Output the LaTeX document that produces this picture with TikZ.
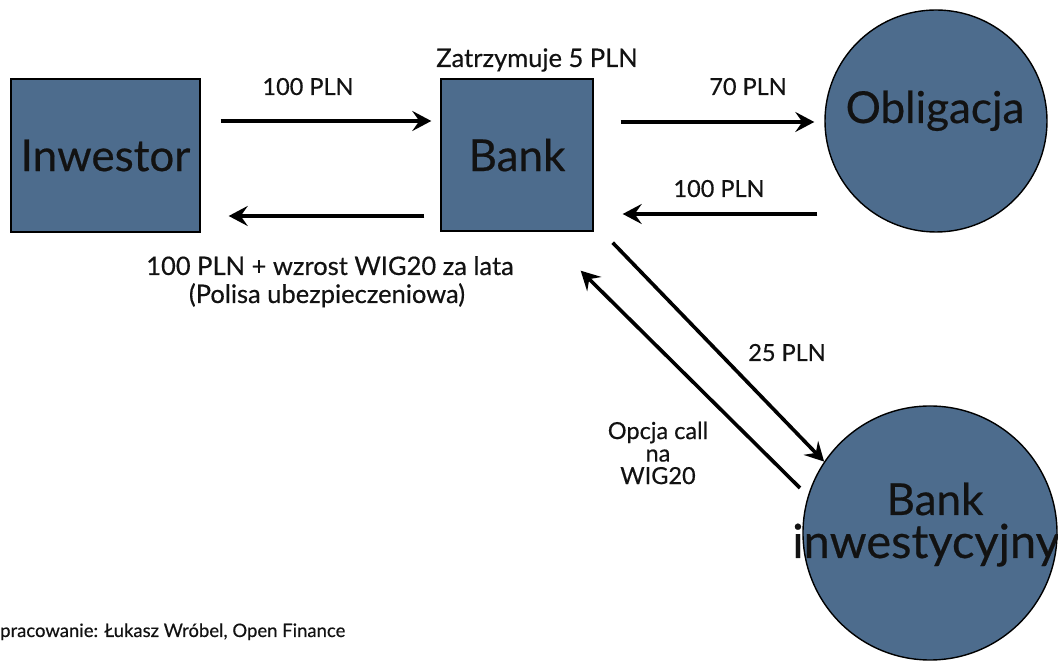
\documentclass[tikz,border=0pt]{standalone}
\usepackage{fontspec}
\setmainfont{Lato}[FakeBold=0.45]
\usetikzlibrary{arrows.meta,calc}
\definecolor{steel}{RGB}{77,108,141}
\definecolor{ink}{RGB}{18,18,18}
\begin{document}
\begin{tikzpicture}[x=1pt,y=1pt,
  party/.style={draw=black, line width=1.4pt, fill=steel, inner sep=0pt,
    text=ink, font=\fontsize{44}{50}\selectfont},
  boxnode/.style={party, rectangle},
  circnode/.style={party, circle},
  big/.style={font=\fontsize{44}{50}\selectfont, text=ink, inner sep=0pt, anchor=base},
  lbl/.style={font=\fontsize{23.5}{26}\selectfont, text=ink, inner sep=0pt, anchor=base},
  wordlbl/.style={lbl, font=\fontsize{25.5}{28}\selectfont},
  flow/.style={line width=3.6pt, draw=black,
    -{Stealth[length=19pt,width=20pt,inset=7pt]}},
]
\useasboundingbox (0,0) rectangle (1058,663);

% parties
\node[boxnode, minimum width=189pt, minimum height=153pt] (inw) at (105.5,507.5) {Inwestor};
\node[boxnode, minimum width=152pt, minimum height=152pt] (bank) at (517,508) {Bank};
\node[circnode, minimum size=222pt] (obl) at (936,542) {};
\node[big] (obltext) at (935,540) {Obligacja};
\node[circnode, minimum size=254pt] (binw) at (930,130) {};
\node[big] (binwtop) at (935,148) {Bank};
\node[big, font=\fontsize{47}{52}\selectfont] (binwbot) at (926,105) {inwestycyjny};

% money and product flows
\draw[flow] ($(inw.east)+(20,34.5)$) -- ($(bank.west)+(-9,34)$);
\draw[flow] ($(bank.west)+(-16,-61)$) -- ($(inw.east)+(28,-60.5)$);
\draw[flow] ($(bank.east)+(27,33)$) -- ($(obl.west)+(-10,-1)$);
\draw[flow] ($(obl.west)+(-7,-93)$) -- ($(bank.east)+(29,-59)$);
\draw[flow] ($(bank.south east)+(19,-11)$) -- (binw.146);
\draw[flow] ($(binw.center)+(-130,45)$) -- ($(bank.south east)+(-13,-39)$);

% labels
\node[wordlbl] (keep) at (537,596) {Zatrzymuje 5 PLN};
\node[lbl] (pay) at (308,568) {100 PLN};
\node[lbl] (buybond) at (748,568) {70 PLN};
\node[lbl] (redeem) at (719,466) {100 PLN};
\node[wordlbl] (payout) at (330,388) {100 PLN + wzrost WIG20 za lata};
\node[wordlbl] (policy) at (327,360) {(Polisa ubezpieczeniowa)};
\node[lbl] (premium) at (787,302) {25 PLN};
\node[lbl, anchor=center, align=center, font=\fontsize{23.5}{22.5}\selectfont] (option) at (658,210)
  {Opcja call\\na\\WIG20};

% source
\node[anchor=base west, inner sep=0pt, text=ink, font=\fontsize{18.5}{20}\selectfont] (src) at (0,26)
  {pracowanie: Łukasz Wróbel, Open Finance};
\end{tikzpicture}
\end{document}
